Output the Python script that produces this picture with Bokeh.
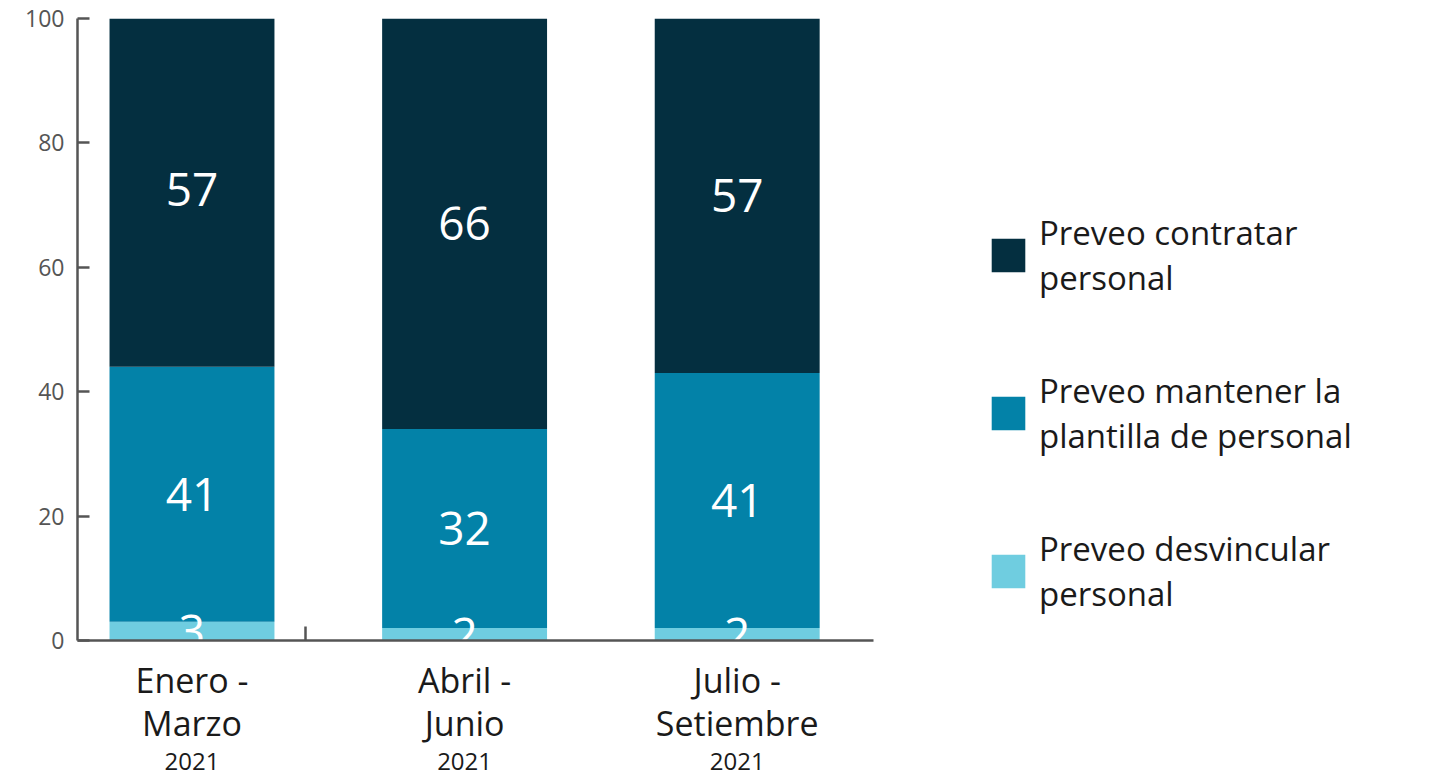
import numpy as np
from bokeh.plotting import figure
from bokeh.models import (ColumnDataSource, Legend, LegendItem, LinearAxis,
                          FixedTicker, Range1d)
from bokeh.core.properties import value
from bokeh.embed import file_html
from bokeh.resources import INLINE

# ---- data ----
periods = ["Enero -\nMarzo", "Abril -\nJunio", "Julio -\nSetiembre"]
years = ["2021", "2021", "2021"]
desvincular = [3, 2, 2]
mantener = [41, 32, 41]
contratar = [57, 66, 57]
series_names = ["Preveo desvincular\npersonal",
                "Preveo mantener la\nplantilla de personal",
                "Preveo contratar\npersonal"]
colors = ["#6fcde0", "#0382a8", "#042f40"]
y_ticks = [0, 20, 40, 60, 80, 100]

FONT = "Open Sans"
idx = list(range(1, len(periods) + 1))

src = ColumnDataSource(dict(x=idx, desv=desvincular, mant=mantener, cont=contratar))

p = figure(frame_width=796, frame_height=622, output_backend="svg",
           toolbar_location=None, x_range=Range1d(0.58, 3.50),
           y_range=Range1d(0, 100), min_border_left=77, min_border_right=540,
           min_border_top=18, min_border_bottom=138, x_axis_type=None)
p.outline_line_color = None
p.grid.visible = False
p.background_fill_color = "white"

rs = p.vbar_stack(["desv", "mant", "cont"], x="x", width=0.605, color=colors,
                  line_color=None, source=src)

# data labels
stack = np.array([desvincular, mantener, contratar], dtype=float)
cum = np.cumsum(stack, axis=0)
mids = cum - stack / 2
lx, ly, lt = [], [], []
for i in range(stack.shape[0]):
    for j in range(stack.shape[1]):
        lx.append(idx[j]); ly.append(mids[i, j]); lt.append(str(int(stack[i, j])))
p.text(x=lx, y=ly, text=lt, text_color="white", text_align="center",
       text_baseline="middle", text_font=value(FONT), text_font_size="46px",
       text_font_style="normal")

# y axis
ya = p.yaxis[0]
ya.ticker = FixedTicker(ticks=y_ticks)
ya.axis_line_color = "#555555"
ya.axis_line_width = 2.5
ya.major_tick_line_color = "#555555"
ya.major_tick_line_width = 2.5
ya.major_tick_in = 12
ya.major_tick_out = 0
ya.minor_tick_line_color = None
ya.major_label_text_font = FONT
ya.major_label_text_font_size = "23px"
ya.major_label_text_color = "#555555"
ya.major_label_standoff = 13

# x axis (period labels)
xa = LinearAxis(ticker=FixedTicker(ticks=idx, minor_ticks=[1.417]),
                major_label_overrides={i: s for i, s in zip(idx, periods)})
xa.axis_line_color = "#555555"
xa.axis_line_width = 2.5
xa.major_tick_in = 0
xa.major_tick_out = 0
xa.minor_tick_in = 14
xa.minor_tick_out = 0
xa.minor_tick_line_color = "#555555"
xa.minor_tick_line_width = 2.5
xa.major_label_text_font = FONT
xa.major_label_text_font_size = "34px"
xa.major_label_text_color = "#1a1a1a"
xa.major_label_text_line_height = 0.95
xa.major_label_standoff = 16
p.add_layout(xa, "below")

# x axis (year labels)
ya2 = LinearAxis(ticker=FixedTicker(ticks=idx),
                 major_label_overrides={i: s for i, s in zip(idx, years)})
ya2.axis_line_color = None
ya2.major_tick_line_color = None
ya2.minor_tick_line_color = None
ya2.major_tick_in = 0
ya2.major_tick_out = 0
ya2.major_label_text_font = FONT
ya2.major_label_text_font_size = "24px"
ya2.major_label_text_color = "#1a1a1a"
ya2.major_label_standoff = 3
p.add_layout(ya2, "below")

items = [LegendItem(label=series_names[k], renderers=[rs[k]]) for k in (2, 1, 0)]
leg = Legend(items=items, location=(114, 24), orientation="vertical")
leg.glyph_width = 42
leg.glyph_height = 42
leg.label_text_font = FONT
leg.label_text_font_size = "33px"
leg.label_text_color = "#1a1a1a"
leg.label_standoff = 10
leg.spacing = 68
leg.padding = 0
leg.margin = 0
leg.border_line_color = None
leg.background_fill_alpha = 0
p.add_layout(leg, "right")

open("out.html", "w").write(file_html(p, INLINE))
